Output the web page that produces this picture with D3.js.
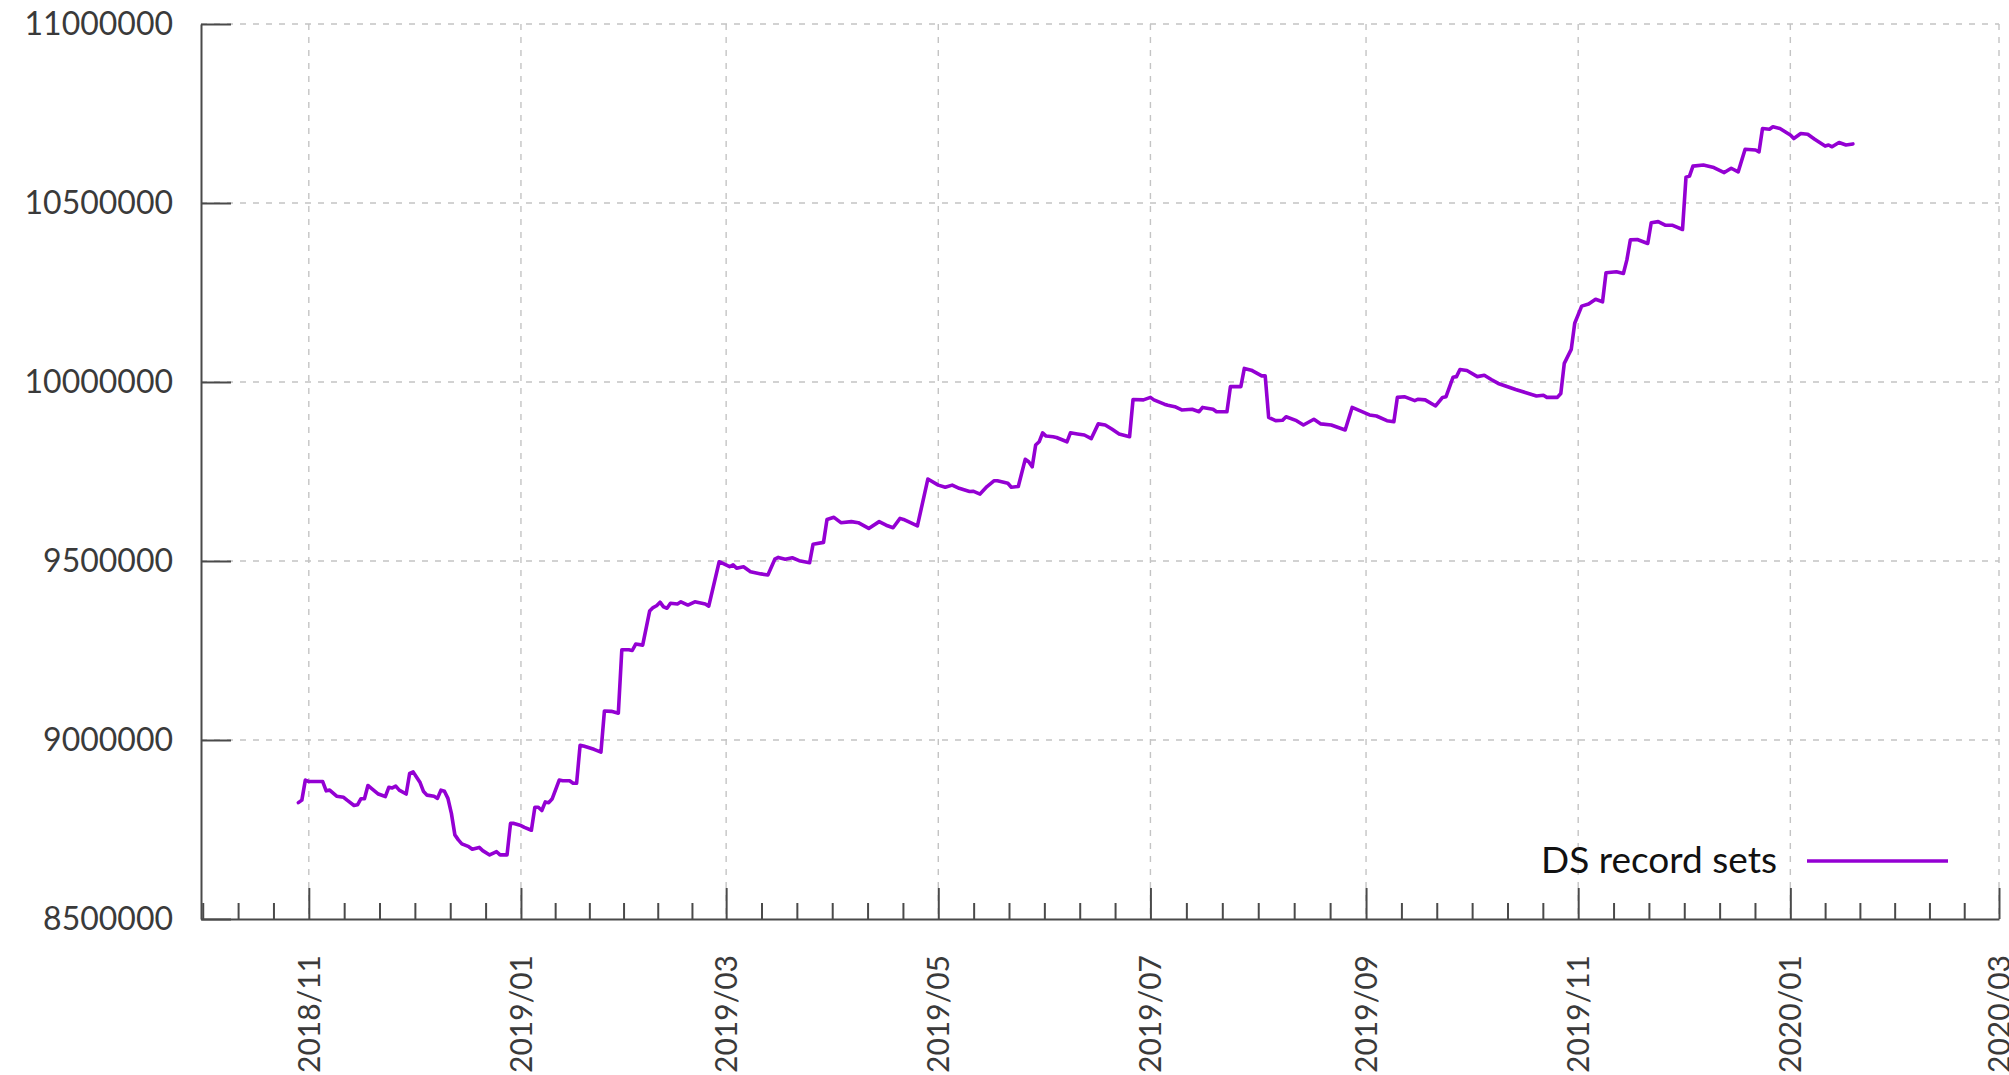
<!DOCTYPE html>
<html>
<head>
<meta charset="utf-8">
<script src="https://cdn.jsdelivr.net/npm/d3@7"></script>
<style>
  html, body { margin: 0; padding: 0; background: #ffffff; }
  svg { display: block; }
</style>
</head>
<body>
<svg id="chart" width="2009" height="1075"></svg>
<script>
// ---------------- data ----------------
const seriesName = "DS record sets";

const dates = [
  "2018-10-29","2018-10-30","2018-10-31","2018-11-01","2018-11-05","2018-11-06","2018-11-07","2018-11-09",
  "2018-11-11","2018-11-12","2018-11-14","2018-11-15","2018-11-16","2018-11-17","2018-11-18","2018-11-19",
  "2018-11-21","2018-11-23","2018-11-24","2018-11-25","2018-11-26","2018-11-27","2018-11-29","2018-11-30",
  "2018-12-01","2018-12-02","2018-12-03","2018-12-04","2018-12-05","2018-12-07","2018-12-08","2018-12-09",
  "2018-12-10","2018-12-11","2018-12-12","2018-12-13","2018-12-14","2018-12-15","2018-12-17","2018-12-18",
  "2018-12-20","2018-12-21","2018-12-23","2018-12-25","2018-12-26","2018-12-28","2018-12-29","2018-12-30",
  "2019-01-01","2019-01-02","2019-01-04","2019-01-05","2019-01-06","2019-01-07","2019-01-08","2019-01-09",
  "2019-01-10","2019-01-12","2019-01-13","2019-01-15","2019-01-16","2019-01-17","2019-01-18","2019-01-19",
  "2019-01-22","2019-01-24","2019-01-25","2019-01-27","2019-01-29","2019-01-30","2019-02-01","2019-02-02",
  "2019-02-03","2019-02-05","2019-02-07","2019-02-08","2019-02-09","2019-02-10","2019-02-11","2019-02-12",
  "2019-02-13","2019-02-15","2019-02-16","2019-02-18","2019-02-20","2019-02-23","2019-02-24","2019-02-27",
  "2019-03-02","2019-03-03","2019-03-04","2019-03-06","2019-03-08","2019-03-11","2019-03-13","2019-03-15",
  "2019-03-16","2019-03-18","2019-03-20","2019-03-22","2019-03-25","2019-03-26","2019-03-29","2019-03-30",
  "2019-04-01","2019-04-03","2019-04-06","2019-04-08","2019-04-11","2019-04-14","2019-04-16","2019-04-18",
  "2019-04-20","2019-04-21","2019-04-25","2019-04-28","2019-05-01","2019-05-03","2019-05-05","2019-05-07",
  "2019-05-10","2019-05-11","2019-05-13","2019-05-15","2019-05-17","2019-05-18","2019-05-21","2019-05-22",
  "2019-05-24","2019-05-26","2019-05-27","2019-05-28","2019-05-29","2019-05-30","2019-05-31","2019-06-01",
  "2019-06-03","2019-06-04","2019-06-07","2019-06-08","2019-06-10","2019-06-12","2019-06-14","2019-06-16",
  "2019-06-18","2019-06-20","2019-06-22","2019-06-25","2019-06-26","2019-06-29","2019-07-01","2019-07-02",
  "2019-07-05","2019-07-06","2019-07-08","2019-07-10","2019-07-13","2019-07-15","2019-07-16","2019-07-19",
  "2019-07-20","2019-07-23","2019-07-24","2019-07-27","2019-07-28","2019-07-30","2019-08-02","2019-08-03",
  "2019-08-04","2019-08-06","2019-08-08","2019-08-09","2019-08-12","2019-08-14","2019-08-17","2019-08-19",
  "2019-08-22","2019-08-24","2019-08-26","2019-08-28","2019-09-02","2019-09-04","2019-09-07","2019-09-09",
  "2019-09-10","2019-09-12","2019-09-15","2019-09-16","2019-09-18","2019-09-21","2019-09-23","2019-09-24",
  "2019-09-26","2019-09-27","2019-09-28","2019-09-30","2019-10-03","2019-10-05","2019-10-07","2019-10-09",
  "2019-10-14","2019-10-17","2019-10-20","2019-10-22","2019-10-23","2019-10-26","2019-10-27","2019-10-28",
  "2019-10-30","2019-10-31","2019-11-02","2019-11-04","2019-11-06","2019-11-08","2019-11-09","2019-11-12",
  "2019-11-14","2019-11-15","2019-11-16","2019-11-18","2019-11-21","2019-11-22","2019-11-24","2019-11-26",
  "2019-11-28","2019-12-01","2019-12-02","2019-12-03","2019-12-04","2019-12-07","2019-12-10","2019-12-13",
  "2019-12-15","2019-12-17","2019-12-19","2019-12-22","2019-12-23","2019-12-24","2019-12-26","2019-12-27",
  "2019-12-29","2020-01-01","2020-01-02","2020-01-04","2020-01-06","2020-01-08","2020-01-11","2020-01-12",
  "2020-01-13","2020-01-15","2020-01-17","2020-01-19"
];

const values = [
  8825000,8832000,8888000,8884000,8884000,8858000,8860000,8843000,
  8840000,8832000,8817000,8819000,8836000,8836000,8873000,8865000,
  8849000,8842000,8868000,8866000,8871000,8860000,8849000,8907000,
  8911000,8896000,8881000,8856000,8846000,8843000,8837000,8860000,
  8857000,8837000,8795000,8735000,8721000,8710000,8702000,8695000,
  8700000,8691000,8679000,8688000,8679000,8679000,8767000,8767000,
  8761000,8756000,8748000,8812000,8812000,8803000,8827000,8825000,
  8836000,8888000,8886000,8886000,8879000,8879000,8985000,8983000,
  8974000,8966000,9081000,9080000,9075000,9252000,9252000,9250000,
  9268000,9265000,9360000,9370000,9375000,9385000,9372000,9368000,
  9382000,9380000,9386000,9377000,9386000,9380000,9374000,9498000,
  9484000,9489000,9480000,9484000,9470000,9464000,9461000,9505000,
  9510000,9505000,9509000,9501000,9495000,9547000,9552000,9616000,
  9622000,9607000,9610000,9607000,9591000,9610000,9600000,9593000,
  9619000,9616000,9598000,9729000,9712000,9706000,9712000,9703000,
  9694000,9695000,9687000,9708000,9724000,9724000,9717000,9706000,
  9708000,9784000,9777000,9763000,9824000,9833000,9858000,9849000,
  9847000,9845000,9833000,9858000,9855000,9852000,9842000,9883000,
  9880000,9868000,9855000,9847000,9951000,9950000,9957000,9950000,
  9938000,9935000,9931000,9922000,9924000,9917000,9929000,9924000,
  9917000,9917000,9987000,9987000,10038000,10033000,10017000,10017000,
  9901000,9892000,9893000,9903000,9892000,9880000,9896000,9883000,
  9880000,9873000,9866000,9929000,9908000,9905000,9892000,9889000,
  9957000,9959000,9948000,9952000,9950000,9933000,9957000,9959000,
  10013000,10015000,10035000,10032000,10015000,10019000,10007000,9996000,
  9979000,9970000,9961000,9963000,9957000,9957000,9968000,10052000,
  10091000,10164000,10212000,10218000,10231000,10224000,10305000,10308000,
  10303000,10341000,10397000,10398000,10387000,10445000,10448000,10438000,
  10438000,10426000,10572000,10575000,10603000,10606000,10599000,10585000,
  10597000,10587000,10650000,10648000,10643000,10708000,10706000,10713000,
  10708000,10690000,10680000,10694000,10692000,10678000,10659000,10662000,
  10657000,10669000,10662000,10665000
];

const xDomainDates = ["2018-10-01", "2020-03-01"];
const yDomainValues = [8500000, 11000000];
const yTickValues = [8500000, 9000000, 9500000, 10000000, 10500000, 11000000];
const xMajorTickDates = ["2018-11-01","2019-01-01","2019-03-01","2019-05-01","2019-07-01",
                         "2019-09-01","2019-11-01","2020-01-01","2020-03-01"];
const xMinorBaseDate = "2018-09-01"; // previous major step, used to place minor ticks before 2018/11

// ---------------- layout ----------------
const W = 2009, H = 1075;
const m = { left: 201, right: 2009 - 1999, top: 24, bottom: 1075 - 919 };
const LABEL_FONT = "Lato, 'Open Sans', 'DejaVu Sans', sans-serif";

const parse = d3.utcParse("%Y-%m-%d");
const fmt = d3.utcFormat("%Y/%m");
const data = dates.map((d, i) => ({ date: parse(d), value: values[i] }));

const svg = d3.select("#chart");
svg.append("rect").attr("width", W).attr("height", H).attr("fill", "#ffffff");

const x = d3.scaleUtc().domain(xDomainDates.map(parse)).range([m.left, W - m.right]);
const y = d3.scaleLinear().domain(yDomainValues).range([H - m.bottom, m.top]);

const majors = xMajorTickDates.map(parse);
const steps = [parse(xMinorBaseDate)].concat(majors);
const minors = [];
for (let i = 0; i < steps.length - 1; i++) {
  const a = +steps[i], b = +steps[i + 1];
  for (let k = 1; k < 6; k++) {
    const t = new Date(a + (b - a) * k / 6);
    if (t >= x.domain()[0] && t <= x.domain()[1]) minors.push(t);
  }
}

// ---------------- grid ----------------
const grid = svg.append("g").attr("stroke", "#c4c4c4").attr("stroke-width", 1.4)
  .attr("stroke-dasharray", "6,7").attr("fill", "none");
grid.selectAll("line.h").data(yTickValues.slice(1)).join("line")
  .attr("class", "h")
  .attr("x1", m.left).attr("x2", W - m.right)
  .attr("y1", d => y(d)).attr("y2", d => y(d));
grid.selectAll("line.v").data(majors).join("line")
  .attr("class", "v")
  .attr("x1", d => x(d)).attr("x2", d => x(d))
  .attr("y1", m.top).attr("y2", H - m.bottom);

// ---------------- axes ----------------
const axisColor = "#4a4a4a";
const labelColor = "#3a3a3a";

const gy = svg.append("g").attr("transform", `translate(${m.left},0)`)
  .call(d3.axisLeft(y).tickValues(yTickValues).tickSize(-30).tickSizeOuter(0).tickPadding(28)
        .tickFormat(d3.format("d")));
gy.select(".domain").attr("stroke", axisColor).attr("stroke-width", 2);
gy.selectAll(".tick line").attr("stroke", axisColor).attr("stroke-width", 2);
gy.selectAll(".tick text").attr("font-family", LABEL_FONT).attr("font-size", 32)
  .attr("fill", labelColor);

const gxMinor = svg.append("g").attr("transform", `translate(0,${H - m.bottom})`)
  .call(d3.axisBottom(x).tickValues(minors).tickSize(-16).tickSizeOuter(0).tickFormat(""));
gxMinor.select(".domain").remove();
gxMinor.selectAll(".tick line").attr("stroke", axisColor).attr("stroke-width", 2);

const gx = svg.append("g").attr("transform", `translate(0,${H - m.bottom})`)
  .call(d3.axisBottom(x).tickValues(majors).tickSize(-31).tickSizeOuter(0).tickFormat(fmt));
gx.select(".domain").attr("stroke", axisColor).attr("stroke-width", 2);
gx.selectAll(".tick line").attr("stroke", axisColor).attr("stroke-width", 2);
gx.selectAll(".tick text")
  .attr("font-family", LABEL_FONT).attr("font-size", 30).attr("fill", labelColor)
  .attr("text-anchor", "end")
  .attr("transform", "rotate(-90)")
  .attr("x", -36).attr("y", 0).attr("dy", "0.35em");

// ---------------- line ----------------
const lineColor = "#9400d3";
const line = d3.line().x(d => x(d.date)).y(d => y(d.value));
svg.append("path").datum(data)
  .attr("fill", "none").attr("stroke", lineColor).attr("stroke-width", 3.6)
  .attr("stroke-linejoin", "round").attr("stroke-linecap", "round")
  .attr("d", line);

// ---------------- legend ----------------
const leg = svg.append("g");
leg.append("text").attr("x", 1777).attr("y", 873)
  .attr("text-anchor", "end").attr("font-family", LABEL_FONT).attr("font-size", 37)
  .attr("fill", "#111111").text(seriesName);
leg.append("line").attr("x1", 1807).attr("x2", 1948).attr("y1", 861).attr("y2", 861)
  .attr("stroke", lineColor).attr("stroke-width", 3.6);
</script>
</body>
</html>
